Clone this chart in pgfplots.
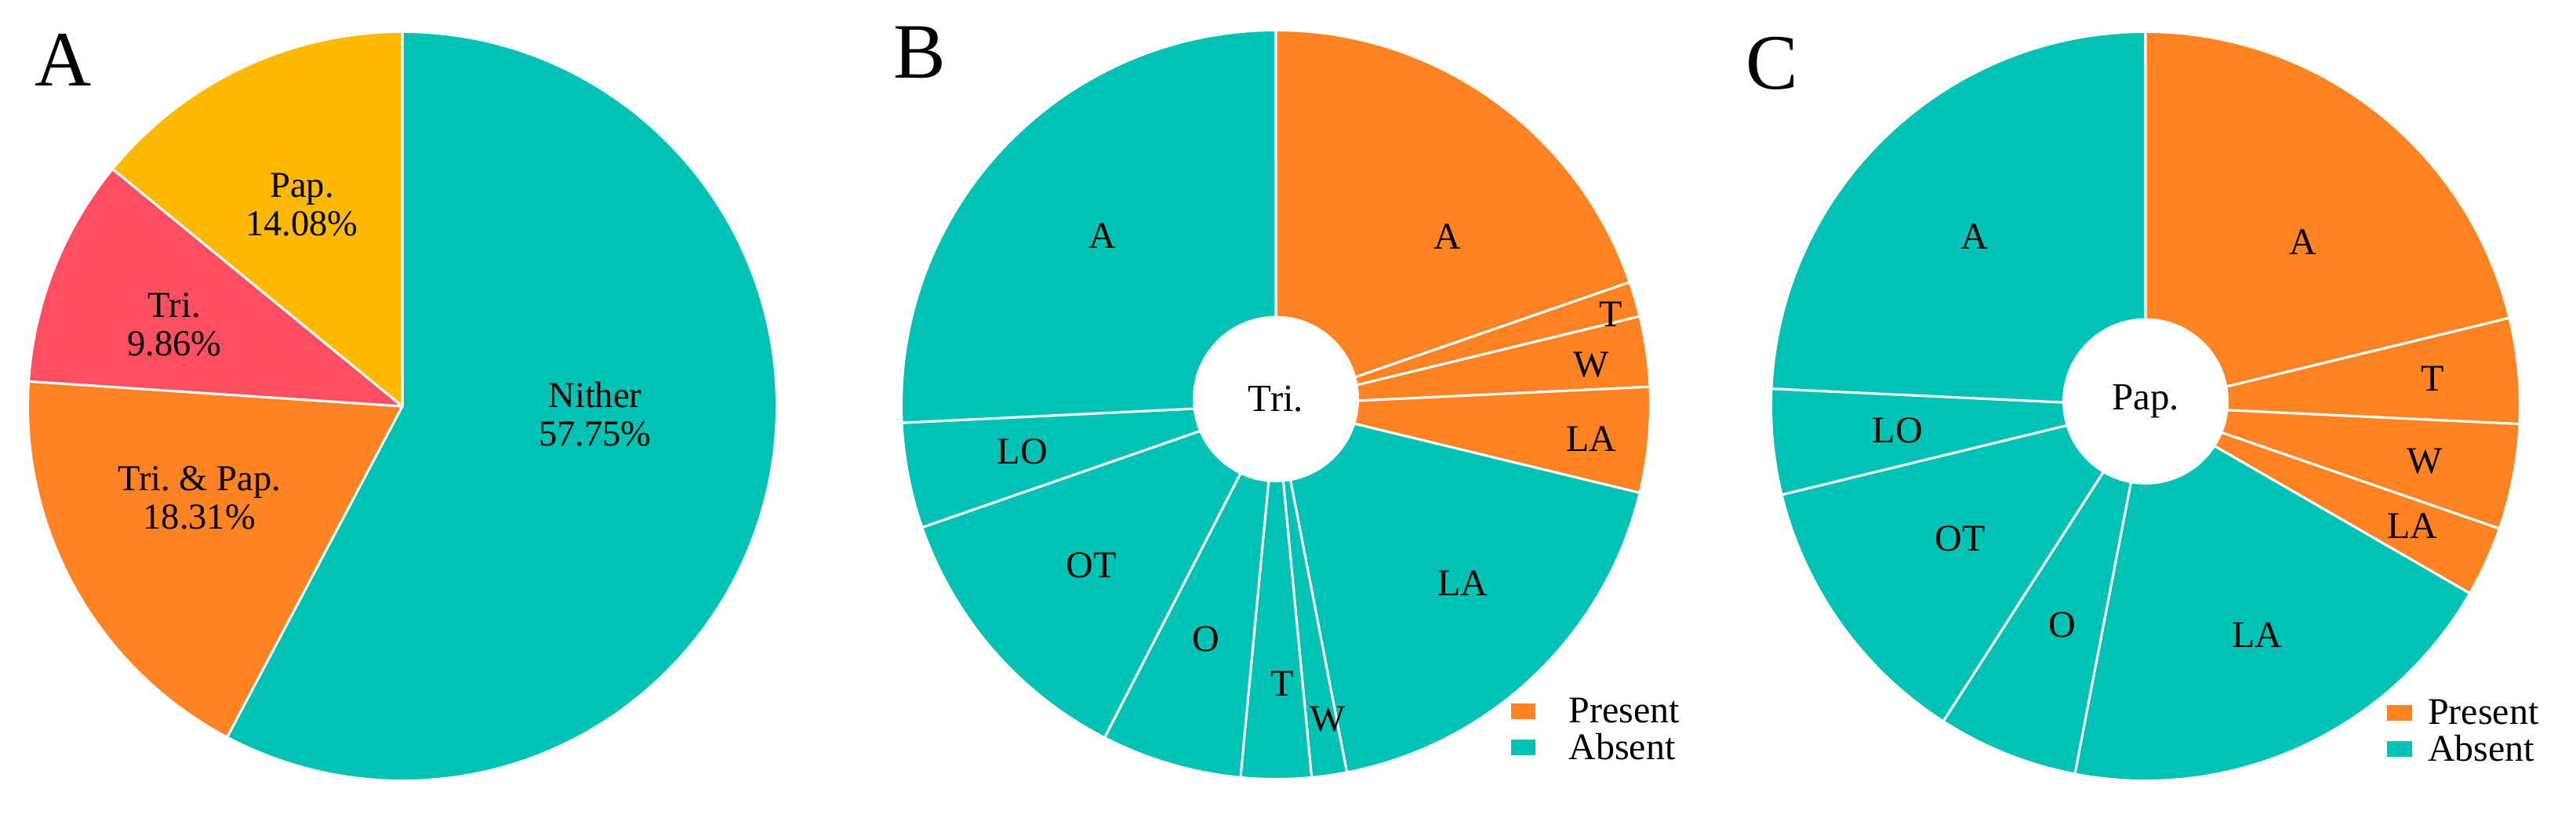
\documentclass[border=0pt]{standalone}
\usepackage{pgfplots}
\pgfplotsset{compat=1.18}
\usepackage{pgfplotstable}
\usepackage{fontspec}
\setmainfont{Liberation Serif}

\definecolor{cT}{HTML}{00C2B5}
\definecolor{cO}{HTML}{FF8322}
\definecolor{cR}{HTML}{FF4D62}
\definecolor{cY}{HTML}{FFB900}

% slice sizes (counts or percent), colour, label position in units of the radius
\pgfplotstableread{
n      c   lx      ly      lab
57.75  cT  0.515  -0.021   Nither
18.31  cO -0.542  -0.245   Tri.~\&~Pap.
9.86   cR -0.609   0.218   Tri.
14.08  cY -0.268   0.538   Pap.
}\tabA

\pgfplotstableread{
n   c   lx      ly      lab
13  cO  0.459   0.449   A
1   cO  0.895   0.241   T
2   cO  0.843   0.107   W
3   cO  0.843  -0.092   LA
12  cT  0.499  -0.476   LA
1   cT  0.138  -0.841   W
2   cT  0.017  -0.746   T
4   cT -0.187  -0.625   O
8   cT -0.493  -0.430   OT
3   cT -0.677  -0.126   LO
17  cT -0.463   0.451   A
}\tabB

\pgfplotstableread{
n   c   lx      ly      lab
14  cO  0.421   0.438   A
3   cO  0.767   0.073   T
3   cO  0.746  -0.147   W
2   cO  0.713  -0.319   LA
13  cT  0.298  -0.610   LA
4   cT -0.222  -0.585   O
8   cT -0.495  -0.354   OT
3   cT -0.662  -0.065   LO
16  cT -0.457   0.453   A
}\tabC

\newcommand\R{95.5bp}
\newcommand\lblfont{\fontsize{9.6bp}{9.7bp}\selectfont}
\newcommand\lblfontA{\fontsize{9.3bp}{9.7bp}\selectfont}

% #1 table, #2 = 1 to add percentages under the labels
\newcommand\drawpie[2]{%
  \pgfplotstablegetrowsof{#1}%
  \pgfmathtruncatemacro\nrows{\pgfplotsretval-1}%
  \gdef\tot{0}%
  \foreach \i in {0,...,\nrows}{%
    \pgfplotstablegetelem{\i}{n}\of{#1}%
    \pgfmathsetmacro\tmpsum{\tot+\pgfplotsretval}\xdef\tot{\tmpsum}}%
  \gdef\acur{90}%
  \foreach \i in {0,...,\nrows}{%
    \pgfplotstablegetelem{\i}{n}\of{#1}\let\v\pgfplotsretval
    \pgfplotstablegetelem{\i}{c}\of{#1}\let\slicecol\pgfplotsretval
    \pgfmathsetmacro\anext{\acur-\v/\tot*360}%
    \fill[fill=\slicecol, draw=white, line width=0.6bp, line join=round]
      (0,0) -- ++(\acur:\R) arc[start angle=\acur, end angle=\anext, radius=\R] -- cycle;
    \xdef\acur{\anext}}%
  \foreach \i in {0,...,\nrows}{%
    \pgfplotstablegetelem{\i}{n}\of{#1}\let\v\pgfplotsretval
    \pgfplotstablegetelem{\i}{lx}\of{#1}\let\lx\pgfplotsretval
    \pgfplotstablegetelem{\i}{ly}\of{#1}\let\ly\pgfplotsretval
    \pgfplotstablegetelem{\i}{lab}\of{#1}\let\lab\pgfplotsretval
    \ifnum#2=1
      \node[font=\lblfontA, align=center, inner sep=0pt] at (\lx,\ly)
        {\lab\\\pgfmathprintnumber[fixed, precision=2, fixed zerofill, assume math mode=true]{\v}\%};
    \else
      \node[font=\lblfont, inner sep=0pt] at (\lx,\ly) {\lab};
    \fi}%
}

\newcommand\pielegend[3]{% square left, square right, text left
  \fill[cO] (#1,-0.839) rectangle (#2,-0.797);
  \fill[cT] (#1,-0.937) rectangle (#2,-0.895);
  \node[font=\lblfont, anchor=base west, inner sep=0pt] at (#3,-0.850) {Present};
  \node[font=\lblfont, anchor=base west, inner sep=0pt] at (#3,-0.948) {Absent};
}

\pgfplotsset{pieax/.style={anchor=center, scale only axis, width=191bp, height=191bp,
  xmin=-1, xmax=1, ymin=-1, ymax=1, hide axis, clip=false}}

\begin{document}
\begin{tikzpicture}
\path[use as bounding box] (0,0) rectangle (657bp,208.6bp);

\begin{axis}[pieax, at={(102.6bp,105.0bp)}]
\pgfplotsextra{%
  \drawpie{\tabA}{1}%
  \node[font=\fontsize{20bp}{24bp}\selectfont, inner sep=0pt] at (-0.905,0.925) {A};
}
\end{axis}

\begin{axis}[pieax, at={(325.4bp,105.4bp)}]
\pgfplotsextra{%
  \drawpie{\tabB}{0}%
  \fill[white] (0,0.015) circle[radius=21.2bp];
  \node[font=\fontsize{9.8bp}{12bp}\selectfont] at (0,0.015) {Tri.};
  \pielegend{0.629}{0.694}{0.780}%
  \node[font=\fontsize{20bp}{24bp}\selectfont, inner sep=0pt] at (-0.952,0.941) {B};
}
\end{axis}

\begin{axis}[pieax, at={(547.2bp,105.0bp)}]
\pgfplotsextra{%
  \drawpie{\tabC}{0}%
  \fill[white] (0,0.013) circle[radius=21.2bp];
  \node[font=\fontsize{9.8bp}{12bp}\selectfont] at (0,0.013) {Pap.};
  \pielegend{0.644}{0.713}{0.752}%
  \node[font=\fontsize{20bp}{24bp}\selectfont, inner sep=0pt] at (-0.998,0.916) {C};
}
\end{axis}
\end{tikzpicture}
\end{document}
